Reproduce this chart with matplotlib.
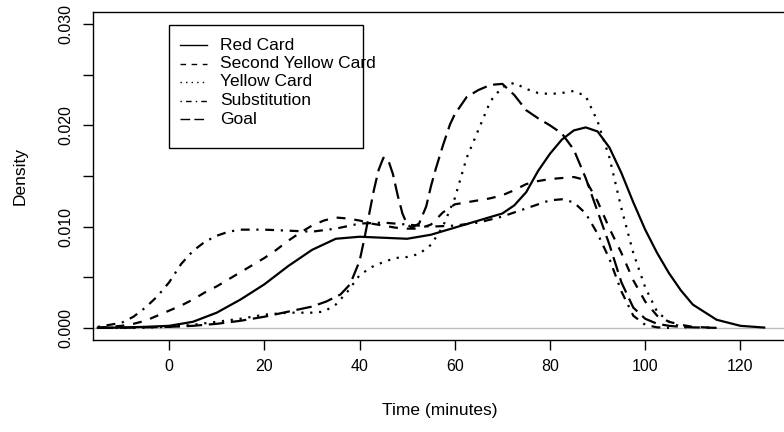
import matplotlib
matplotlib.use("Agg")
import matplotlib.pyplot as plt
from matplotlib.lines import Line2D
from matplotlib.patches import Rectangle

plt.rcParams['font.family'] = ['Liberation Sans', 'DejaVu Sans']

# density curves (time in minutes, density)
red_t = [-15, -10, -5, 0, 5, 10, 15, 20, 25, 30, 35, 40, 45, 50, 55, 60, 65, 70, 72.5, 75,
         77.5, 80, 82.5, 85, 87.5, 90, 92.5, 95, 97.5, 100, 102.5, 105, 107.5, 110, 115, 120, 125]
red_d = [0.0, 0.00003, 0.0001, 0.0002, 0.0006, 0.0015, 0.0028, 0.0043, 0.0061, 0.0077, 0.0088,
         0.0090, 0.0089, 0.0088, 0.0092, 0.0099, 0.0106, 0.0113, 0.0121, 0.0134, 0.0155, 0.0172,
         0.0186, 0.0195, 0.0198, 0.0194, 0.0178, 0.0153, 0.0124, 0.0097, 0.0074, 0.0054, 0.0037,
         0.0023, 0.0008, 0.0002, 0.00003]

second_t = [-15, -12.5, -10, -7.5, -5, -2.5, 0, 2.5, 5, 7.5, 10, 12.5, 15, 17.5, 20, 22.5, 25,
            27.5, 30, 32.5, 35, 37.5, 40, 42.5, 45, 47.5, 50, 52.5, 55, 57.5, 60, 62.5, 65, 67.5,
            70, 72.5, 75, 77.5, 80, 82.5, 85, 87.5, 90, 92.5, 95, 97.5, 100, 102.5, 105, 107.5,
            110, 115]
second_d = [0.00003, 0.0001, 0.0002, 0.0004, 0.0007, 0.0012, 0.0017, 0.0022, 0.0028, 0.0035,
            0.0041, 0.0048, 0.0055, 0.0062, 0.0069, 0.0077, 0.0086, 0.0094, 0.0101, 0.0106,
            0.0109, 0.0108, 0.0106, 0.0103, 0.0101, 0.0099, 0.0098, 0.0098, 0.0102, 0.0114,
            0.0122, 0.0124, 0.0126, 0.0128, 0.0131, 0.0136, 0.0142, 0.0145, 0.0147, 0.0148,
            0.0149, 0.0146, 0.0125, 0.0098, 0.0074, 0.0047, 0.0026, 0.0012, 0.0006, 0.0003,
            0.0001, 0.0]

yellow_t = [-15, -10, -5, 0, 5, 10, 15, 20, 25, 30, 32.5, 35, 37.5, 40, 42.5, 45, 47.5, 50, 52.5,
            55, 57.5, 60, 62.5, 65, 67.5, 70, 72.5, 75, 77.5, 80, 82.5, 85, 87.5, 90, 92.5, 95,
            97.5, 100, 102.5, 105, 107.5, 110]
yellow_d = [0.0, 0.0, 0.00003, 0.0001, 0.0003, 0.0006, 0.0009, 0.0013, 0.0015, 0.0015, 0.0016,
            0.0023, 0.0036, 0.0052, 0.0060, 0.0065, 0.0069, 0.0070, 0.0073, 0.0082, 0.0100,
            0.0128, 0.0168, 0.0196, 0.0224, 0.0238, 0.0242, 0.0236, 0.0232, 0.0231, 0.0232,
            0.0234, 0.0229, 0.0204, 0.0168, 0.0118, 0.0074, 0.0040, 0.0016, 0.0006, 0.0001, 0.0]

subs_t = [-15, -12.5, -10, -7.5, -5, -2.5, 0, 2.5, 5, 7.5, 10, 12.5, 15, 20, 25, 30, 35, 40, 45,
          50, 55, 60, 65, 70, 75, 77.5, 80, 82.5, 85, 87.5, 90, 92.5, 95, 97.5, 100, 102.5, 105]
subs_d = [0.0001, 0.0003, 0.0005, 0.0011, 0.0020, 0.0031, 0.0045, 0.0063, 0.0076, 0.0085, 0.0091,
          0.0095, 0.0097, 0.0097, 0.0096, 0.0095, 0.0098, 0.0103, 0.0104, 0.0102, 0.0100, 0.0101,
          0.0104, 0.0110, 0.0118, 0.0122, 0.0126, 0.0127, 0.0124, 0.0113, 0.0093, 0.0068, 0.0036,
          0.0012, 0.0003, 0.00005, 0.0]

goal_t = [-15, -10, -5, 0, 5, 10, 15, 20, 25, 30, 33, 36, 38, 40, 41, 42, 43, 44, 45, 46, 47, 48,
          49, 50, 51, 52.5, 54, 55, 56, 57.5, 59, 60, 62.5, 65, 67.5, 70, 72.5, 75, 77.5, 80, 82.5,
          85, 87.5, 90, 92.5, 95, 97.5, 100, 102.5, 105, 107.5, 110, 115]
goal_d = [0.0, 0.00002, 0.00005, 0.0001, 0.0002, 0.0004, 0.0007, 0.0011, 0.0016, 0.0021, 0.0026,
          0.0033, 0.0043, 0.0066, 0.0088, 0.0112, 0.0136, 0.0156, 0.0168, 0.0166, 0.0152, 0.0131,
          0.0113, 0.0102, 0.0099, 0.0103, 0.0120, 0.0140, 0.0157, 0.0180, 0.0201, 0.0211, 0.0228,
          0.0235, 0.0240, 0.0241, 0.0230, 0.0215, 0.0207, 0.0200, 0.0192, 0.0176, 0.0148, 0.0115,
          0.0082, 0.0045, 0.0020, 0.0009, 0.0004, 0.0002, 0.0001, 0.00005, 0.0]

labels = ["Red Card", "Second Yellow Card", "Yellow Card", "Substitution", "Goal"]
x_ticks = [0, 20, 40, 60, 80, 100, 120]
y_ticks = [0.0, 0.005, 0.010, 0.015, 0.020, 0.025, 0.030]
y_ticklabels = ["0.000", "", "0.010", "", "0.020", "", "0.030"]

series = [(red_t, red_d), (second_t, second_d), (yellow_t, yellow_d), (subs_t, subs_d), (goal_t, goal_d)]
dashes = ['-', (0, (4, 4)), (0, (1, 3)), (0, (1, 3, 4, 3)), (0, (7, 3))]

W, H = 784, 432
fig = plt.figure(figsize=(W / 100, H / 100), dpi=100)
ax = fig.add_axes([93 / W, (H - 340) / H, 695 / W, 328 / H])

ax.axhline(0, color='#BEBEBE', lw=1.0, zorder=1)
for (t, d), ls in zip(series, dashes):
    ax.plot(t, d, color='black', lw=1.6, linestyle=ls, zorder=2)

ax.set_xlim(-16, 130)
ax.set_ylim(-0.0012, 0.0312)
ax.set_xticks(x_ticks)
ax.set_yticks(y_ticks)
ax.set_yticklabels(y_ticklabels, rotation=90, va='center')
ax.tick_params(direction='out', length=7, width=1, labelsize=11.5, pad=7)
for s in ax.spines.values():
    s.set_linewidth(1.0)

fig.text(20 / W, 1 - 176 / H, "Density", rotation=90, ha='center', va='center', fontsize=12.5)
fig.text(440 / W, 1 - 410 / H, "Time (minutes)", ha='center', va='center', fontsize=12.5)

# legend drawn by hand, R style (text runs past the box)
fig.add_artist(Rectangle((169 / W, 1 - 148 / H), 194 / W, 123 / H, transform=fig.transFigure,
                         fill=False, ec='black', lw=1.0))
for i, (lab, ls) in enumerate(zip(labels, dashes)):
    y = 1 - (45 + 18.5 * i) / H
    fig.add_artist(Line2D([180 / W, 207 / W], [y, y], transform=fig.transFigure,
                          color='black', lw=1.0, linestyle=ls))
    fig.text(220 / W, y, lab, ha='left', va='center', fontsize=12.5)

fig.savefig("out.png", dpi=100)
